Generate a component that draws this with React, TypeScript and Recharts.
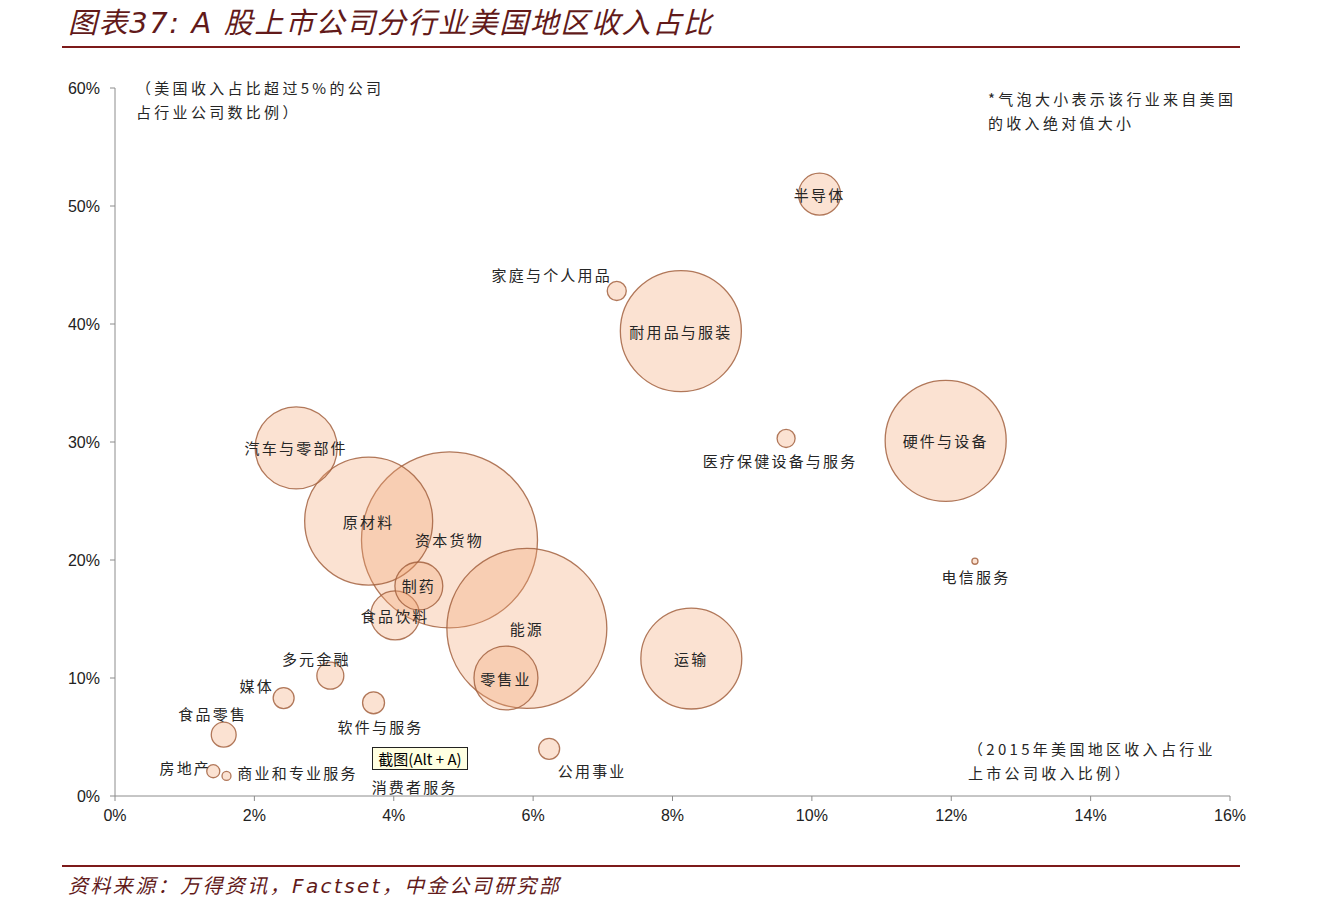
import React from "react";
import { ScatterChart, Scatter, XAxis, YAxis, ZAxis } from "recharts";

// 行业
const industries = [
  "资本货物",
  "能源",
  "原材料",
  "耐用品与服装",
  "硬件与设备",
  "运输",
  "汽车与零部件",
  "零售业",
  "食品饮料",
  "制药",
  "半导体",
  "多元金融",
  "食品零售",
  "软件与服务",
  "媒体",
  "公用事业",
  "家庭与个人用品",
  "医疗保健设备与服务",
  "房地产",
  "消费者服务",
  "商业和专业服务",
  "电信服务",
];

// 2015年美国地区收入占行业上市公司收入比例 (%)
const usRevenueShare = [
  4.8, 5.91, 3.64, 8.12, 11.92, 8.27, 2.6, 5.61, 4.02, 4.36, 10.11, 3.09, 1.56,
  3.71, 2.42, 6.23, 7.2, 9.63, 1.41, 4.2, 1.6, 12.34,
];

// 美国收入占比超过5%的公司占行业公司数比例 (%)
const companyShare = [
  21.7, 14.2, 23.3, 39.4, 30.1, 11.65, 29.5, 10.0, 15.3, 17.8, 51.0, 10.2, 5.2,
  7.9, 8.3, 4.0, 42.8, 30.3, 2.1, 2.9, 1.7, 19.9,
];

// 来自美国的收入绝对值 (相对规模)
const usRevenue = [
  100, 82.6, 52.9, 47.3, 47.3, 32.9, 21.7, 13.2, 7.75, 7.4, 5.7, 2.35, 2.0,
  1.56, 1.42, 1.42, 1.17, 1.05, 0.55, 0.32, 0.26, 0.12,
];

const xTicks = [0, 2, 4, 6, 8, 10, 12, 14, 16];
const yTicks = [0, 10, 20, 30, 40, 50, 60];

const data = industries.map((name, i) => ({
  name,
  x: usRevenueShare[i],
  y: companyShare[i],
  z: usRevenue[i],
}));

// label offsets from bubble centre (px)
const labelOffsets: Record<string, [number, number]> = {
  家庭与个人用品: [-65, -16],
  医疗保健设备与服务: [-6, 22],
  电信服务: [1, 15],
  多元金融: [-14, -17],
  媒体: [-27, -13],
  软件与服务: [7, 24],
  食品零售: [-11, -21],
  房地产: [-28, -4],
  商业和专业服务: [71, -3],
  公用事业: [43, 22],
  消费者服务: [7, 25],
};

const cjk = '"Noto Sans CJK SC", "Liberation Sans", sans-serif';
const latin = '"Liberation Sans", Arial, sans-serif';

const Bubble = (props: any) => {
  const { cx, cy, width, size } = props;
  const r = width ? width / 2 : Math.sqrt((size || 0) / Math.PI);
  return (
    <circle
      cx={cx}
      cy={cy}
      r={Math.max(r, 2.5)}
      fill="#f2a673"
      fillOpacity={0.32}
      stroke="#a3623f"
      strokeOpacity={0.85}
      strokeWidth={1.3}
    />
  );
};

const BubbleLabel = (props: any) => {
  const { cx, cy, payload } = props;
  const [dx, dy] = labelOffsets[payload.name] ?? [0, 0];
  return (
    <text
      x={cx + dx}
      y={cy + dy}
      textAnchor="middle"
      dominantBaseline="central"
      fontFamily={cjk}
      fontSize={15}
      letterSpacing={2.2}
      fill="#262626"
    >
      {payload.name}
    </text>
  );
};

const noteStyle: React.CSSProperties = {
  position: "absolute",
  fontFamily: cjk,
  fontSize: 15,
  letterSpacing: 3.3,
  lineHeight: "24px",
  color: "#262626",
  whiteSpace: "nowrap",
};

export default function App() {
  return (
    <div
      style={{
        position: "absolute",
        left: 0,
        top: 0,
        width: 1339,
        height: 909,
        background: "#fff",
        overflow: "hidden",
      }}
    >
      <div
        style={{
          position: "absolute",
          left: 68,
          top: 5,
          fontFamily: '"DejaVu Sans", "Noto Sans CJK SC", sans-serif',
          fontStyle: "italic",
          fontSize: 29,
          letterSpacing: 1.6,
          lineHeight: "36px",
          color: "#621a1a",
          whiteSpace: "nowrap",
        }}
      >
        图表37: A 股上市公司分行业美国地区收入占比
      </div>
      <div
        style={{
          position: "absolute",
          left: 62,
          top: 46,
          width: 1178,
          height: 2,
          background: "#7d1a1a",
        }}
      />

      <div style={{ position: "absolute", left: 0, top: 0 }}>
        <ScatterChart
          width={1339}
          height={909}
          margin={{ top: 88, right: 109, bottom: 83, left: 55 }}
        >
          <XAxis
            type="number"
            dataKey="x"
            domain={[0, 16]}
            ticks={xTicks}
            tickFormatter={(v) => `${v}%`}
            height={30}
            tickSize={5}
            tickMargin={9}
            axisLine={{ stroke: "#8c8c8c" }}
            tickLine={{ stroke: "#8c8c8c" }}
            tick={{ fill: "#222", fontSize: 16, fontFamily: latin }}
            interval={0}
          />
          <YAxis
            type="number"
            dataKey="y"
            domain={[0, 60]}
            ticks={yTicks}
            tickFormatter={(v) => `${v}%`}
            width={60}
            tickSize={5}
            tickMargin={10}
            axisLine={{ stroke: "#8c8c8c" }}
            tickLine={{ stroke: "#8c8c8c" }}
            tick={{ fill: "#222", fontSize: 16, fontFamily: latin }}
            interval={0}
          />
          <ZAxis type="number" dataKey="z" domain={[0, 100]} range={[0, 24328]} />
          <Scatter data={data} shape={Bubble} isAnimationActive={false} />
          <Scatter data={data} shape={BubbleLabel} isAnimationActive={false} />
        </ScatterChart>
      </div>

      <div style={{ ...noteStyle, left: 136, top: 76 }}>
        （美国收入占比超过5%的公司
        <br />
        占行业公司数比例）
      </div>
      <div style={{ ...noteStyle, left: 988, top: 87 }}>
        *气泡大小表示该行业来自美国
        <br />
        的收入绝对值大小
      </div>
      <div style={{ ...noteStyle, left: 968, top: 737 }}>
        （2015年美国地区收入占行业
        <br />
        上市公司收入比例）
      </div>

      <div
        style={{
          position: "absolute",
          left: 372,
          top: 747,
          width: 94,
          height: 21,
          background: "#ffffe1",
          border: "1px solid #222",
          fontFamily: cjk,
          fontSize: 15,
          lineHeight: "21px",
          textAlign: "center",
          color: "#000",
          whiteSpace: "nowrap",
        }}
      >
        截图(Alt + A)
      </div>

      <div
        style={{
          position: "absolute",
          left: 62,
          top: 865,
          width: 1178,
          height: 2,
          background: "#7d1a1a",
        }}
      />
      <div
        style={{
          position: "absolute",
          left: 68,
          top: 872,
          fontFamily: '"DejaVu Sans", "Noto Sans CJK SC", sans-serif',
          fontStyle: "italic",
          fontSize: 20,
          letterSpacing: 2.4,
          lineHeight: "28px",
          color: "#621a1a",
          whiteSpace: "nowrap",
        }}
      >
        资料来源：万得资讯，Factset，中金公司研究部
      </div>
    </div>
  );
}
